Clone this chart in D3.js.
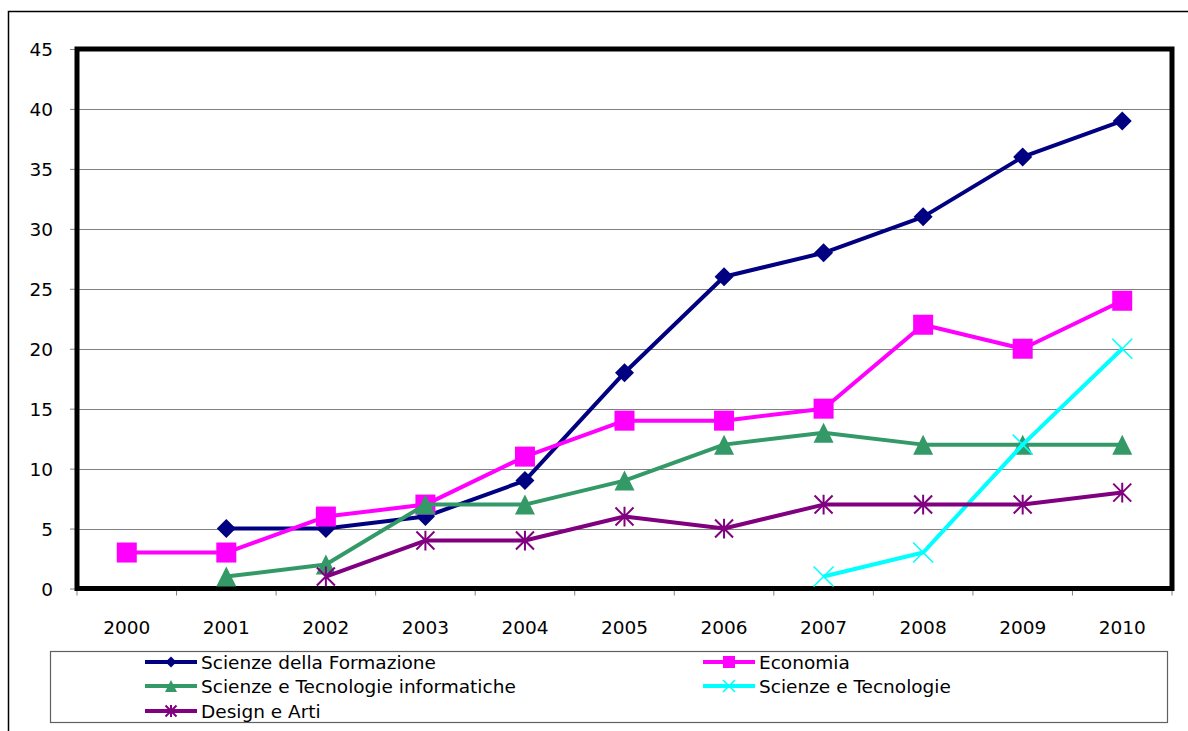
<!DOCTYPE html>
<html><head><meta charset="utf-8">
<script src="https://cdn.jsdelivr.net/npm/d3@7"></script>
<style>body{margin:0;background:#fff}svg{display:block}text{font-family:"DejaVu Sans",sans-serif;fill:#000}</style>
</head><body><svg id="c" width="1188" height="731"></svg>
<script>
const years = ["2000","2001","2002","2003","2004","2005","2006","2007","2008","2009","2010"];
const yTicks = [0,5,10,15,20,25,30,35,40,45];
const formazione = [null,5,5,6,9,18,26,28,31,36,39];
const economia = [3,3,6,7,11,14,14,15,22,20,24];
const informatiche = [null,1,2,7,7,9,12,13,12,12,12];
const tecnologie = [null,null,null,null,null,null,null,1,3,12,20];
const design = [null,null,1,4,4,6,5,7,7,7,8];
const seriesNames = ["Scienze della Formazione","Economia","Scienze e Tecnologie informatiche","Scienze e Tecnologie","Design e Arti"];
const seriesColors = ["#000080","#FF00FF","#339966","#00FFFF","#800080"];
const seriesMarkers = ["diamond","square","triangle","x","star"];
const seriesData = [formazione,economia,informatiche,tecnologie,design];

const svg = d3.select("#c");
const L=77,R=1172,T=49,B=588.5;
const x = d3.scaleBand().domain(years).range([L,R]);
const y = d3.scaleLinear().domain([0,45]).range([B,T]);

svg.append("rect").attr("x",8.5).attr("y",11.5).attr("width",1200).attr("height",800).attr("fill","none").attr("stroke","#000").attr("stroke-width",1.5);

svg.append("g").selectAll("line").data(yTicks.filter(d=>d>0)).join("line")
  .attr("x1",L).attr("x2",R).attr("y1",d=>Math.round(y(d))+0.5).attr("y2",d=>Math.round(y(d))+0.5)
  .attr("stroke","#808080").attr("stroke-width",1);

const ya = svg.append("g").attr("transform",`translate(${L},0)`).call(d3.axisLeft(y).tickValues(yTicks).tickSize(7).tickPadding(17));
ya.select(".domain").remove();
ya.selectAll("line").attr("stroke","#808080");
ya.selectAll("text").style("font-size","18.5px").attr("dy","0.36em");

const bounds = years.map(d=>x(d)).concat([R]);
svg.append("g").selectAll("line").data(bounds).join("line")
  .attr("x1",d=>d).attr("x2",d=>d).attr("y1",B).attr("y2",B+7).attr("stroke","#808080");
svg.append("g").selectAll("text").data(years).join("text")
  .attr("x",d=>x(d)+x.bandwidth()/2).attr("y",634).attr("text-anchor","middle")
  .style("font-size","18.5px").text(d=>d);

svg.append("rect").attr("x",L).attr("y",T).attr("width",R-L).attr("height",B-T)
  .attr("fill","none").attr("stroke","#000").attr("stroke-width",5);

function marker(g,type,color,cx,cy,s){
  if(type==="diamond"){
    g.append("path").attr("d",`M${cx},${cy-s}L${cx+s},${cy}L${cx},${cy+s}L${cx-s},${cy}Z`).attr("fill",color);
  } else if(type==="square"){
    g.append("rect").attr("x",cx-s).attr("y",cy-s).attr("width",2*s).attr("height",2*s).attr("fill",color);
  } else if(type==="triangle"){
    g.append("path").attr("d",`M${cx},${cy-s}L${cx+s},${cy+s}L${cx-s},${cy+s}Z`).attr("fill",color);
  } else if(type==="x"){
    g.append("path").attr("d",`M${cx-s},${cy-s}L${cx+s},${cy+s}M${cx-s},${cy+s}L${cx+s},${cy-s}`).attr("stroke",color).attr("stroke-width",1.6).attr("fill","none");
  } else if(type==="star"){
    g.append("path").attr("d",`M${cx-s},${cy-s}L${cx+s},${cy+s}M${cx-s},${cy+s}L${cx+s},${cy-s}M${cx},${cy-s*1.1}L${cx},${cy+s*1.1}`).attr("stroke",color).attr("stroke-width",2).attr("fill","none");
  }
}
const msize = {diamond:9.5,square:10,triangle:10,x:10,star:9};

seriesData.forEach((arr,i)=>{
  const g = svg.append("g");
  const pts = years.map((yr,j)=>({yr,v:arr[j]})).filter(d=>d.v!==null);
  const line = d3.line().x(d=>x(d.yr)+x.bandwidth()/2).y(d=>y(d.v));
  g.append("path").attr("d",line(pts)).attr("fill","none").attr("stroke",seriesColors[i]).attr("stroke-width",4).attr("stroke-linejoin","round");
  pts.forEach(d=>marker(g,seriesMarkers[i],seriesColors[i],x(d.yr)+x.bandwidth()/2,y(d.v),msize[seriesMarkers[i]]));
});

svg.append("rect").attr("x",50.5).attr("y",651.5).attr("width",1117).attr("height",71).attr("fill","none").attr("stroke","#606060").attr("stroke-width",1.2);
const legPos = [[145,662],[703,662],[145,686],[703,686],[145,711]];
const legSize = {diamond:5.5,square:6,triangle:6,x:6,star:5.5};
seriesNames.forEach((n,i)=>{
  const [lx,ly]=legPos[i];
  const g=svg.append("g");
  g.append("line").attr("x1",lx).attr("x2",lx+52).attr("y1",ly).attr("y2",ly).attr("stroke",seriesColors[i]).attr("stroke-width",4);
  marker(g,seriesMarkers[i],seriesColors[i],lx+26,ly,legSize[seriesMarkers[i]]);
  g.append("text").attr("x",lx+56).attr("y",ly).attr("dy","0.36em").style("font-size","18.5px").text(n);
});
</script></body></html>
